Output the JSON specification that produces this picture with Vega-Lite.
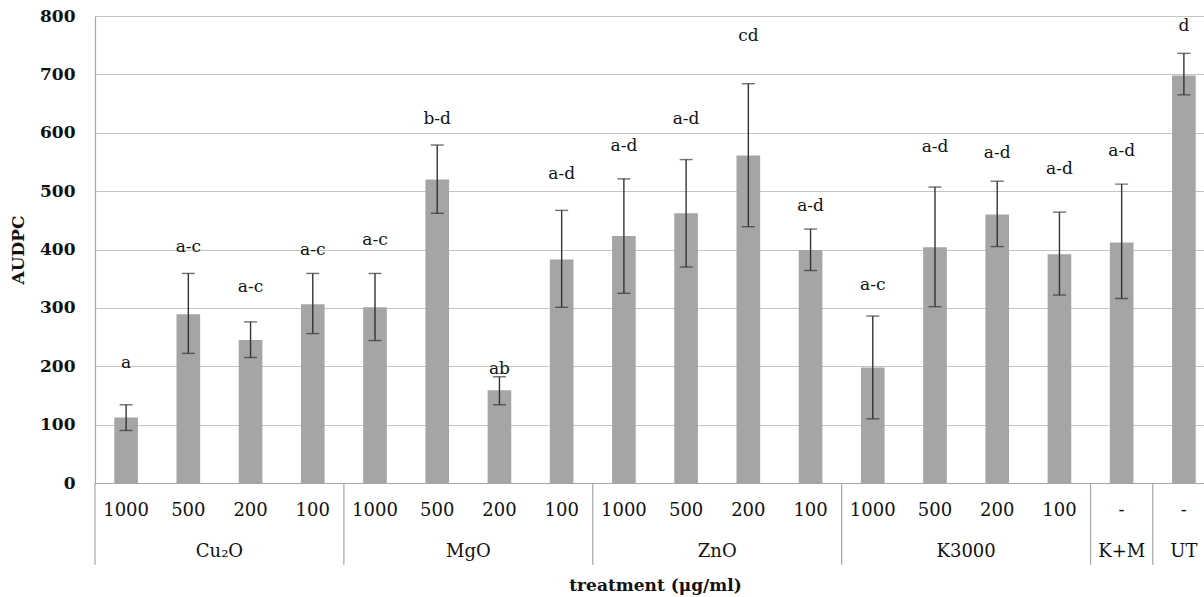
{
  "$schema": "https://vega.github.io/schema/vega-lite/v6.json",
  "autosize": {"type": "none"},
  "padding": {"left": 95, "top": 16, "right": 0, "bottom": 114},
  "width": 1120,
  "height": 467,
  "background": "white",
  "config": {
    "view": {"stroke": null},
    "font": "DejaVu Serif",
    "axis": {"labelFont": "DejaVu Serif", "titleFont": "DejaVu Serif", "labelColor": "#111", "titleColor": "#111"}
  },
  "datasets": {
    "bars": [
      {"key": "Cu2O|1000", "group": "Cu₂O", "mean": 112, "lo": 90, "hi": 134, "letter": "a", "label_y": 206},
      {"key": "Cu2O|500", "group": "Cu₂O", "mean": 289, "lo": 222, "hi": 359, "letter": "a-c", "label_y": 404},
      {"key": "Cu2O|200", "group": "Cu₂O", "mean": 245, "lo": 215, "hi": 276, "letter": "a-c", "label_y": 336},
      {"key": "Cu2O|100", "group": "Cu₂O", "mean": 306, "lo": 256, "hi": 359, "letter": "a-c", "label_y": 399},
      {"key": "MgO|1000", "group": "MgO", "mean": 301, "lo": 244, "hi": 359, "letter": "a-c", "label_y": 416},
      {"key": "MgO|500", "group": "MgO", "mean": 520, "lo": 462, "hi": 579, "letter": "b-d", "label_y": 624},
      {"key": "MgO|200", "group": "MgO", "mean": 159, "lo": 134, "hi": 182, "letter": "ab", "label_y": 195},
      {"key": "MgO|100", "group": "MgO", "mean": 383, "lo": 301, "hi": 467, "letter": "a-d", "label_y": 530},
      {"key": "ZnO|1000", "group": "ZnO", "mean": 423, "lo": 325, "hi": 521, "letter": "a-d", "label_y": 578},
      {"key": "ZnO|500", "group": "ZnO", "mean": 462, "lo": 370, "hi": 554, "letter": "a-d", "label_y": 624},
      {"key": "ZnO|200", "group": "ZnO", "mean": 561, "lo": 439, "hi": 684, "letter": "cd", "label_y": 765},
      {"key": "ZnO|100", "group": "ZnO", "mean": 399, "lo": 364, "hi": 435, "letter": "a-d", "label_y": 475},
      {"key": "K3000|1000", "group": "K3000", "mean": 198, "lo": 110, "hi": 286, "letter": "a-c", "label_y": 339},
      {"key": "K3000|500", "group": "K3000", "mean": 404, "lo": 302, "hi": 507, "letter": "a-d", "label_y": 575},
      {"key": "K3000|200", "group": "K3000", "mean": 460, "lo": 405, "hi": 517, "letter": "a-d", "label_y": 566},
      {"key": "K3000|100", "group": "K3000", "mean": 392, "lo": 322, "hi": 464, "letter": "a-d", "label_y": 538},
      {"key": "K+M|-", "group": "K+M", "mean": 412, "lo": 316, "hi": 512, "letter": "a-d", "label_y": 569},
      {"key": "UT|-", "group": "UT", "mean": 698, "lo": 665, "hi": 736, "letter": "d", "label_y": 783}
    ],
    "groups": [
      {"key": "Cu2O|1000", "name": "Cu₂O", "center_key": "Cu2O|200", "single": false},
      {"key": "MgO|1000", "name": "MgO", "center_key": "MgO|200", "single": false},
      {"key": "ZnO|1000", "name": "ZnO", "center_key": "ZnO|200", "single": false},
      {"key": "K3000|1000", "name": "K3000", "center_key": "K3000|200", "single": false},
      {"key": "K+M|-", "name": "K+M", "center_key": "K+M|-", "single": true},
      {"key": "UT|-", "name": "UT", "center_key": "UT|-", "single": true}
    ]
  },
  "layer": [
    {
      "data": {"name": "bars"},
      "mark": {"type": "bar", "color": "#A5A5A5", "width": {"band": 0.38}},
      "encoding": {
        "x": {
          "field": "key", "type": "nominal", "sort": null,
          "scale": {"domain": ["Cu2O|1000","Cu2O|500","Cu2O|200","Cu2O|100","MgO|1000","MgO|500","MgO|200","MgO|100","ZnO|1000","ZnO|500","ZnO|200","ZnO|100","K3000|1000","K3000|500","K3000|200","K3000|100","K+M|-","UT|-"], "paddingInner": 0, "paddingOuter": 0},
          "axis": {
            "title": "treatment (μg/ml)",
            "titleFontSize": 17, "titleFontWeight": "bold", "titlePadding": 58,
            "labelExpr": "split(datum.value, '|')[1]",
            "labelAngle": 0, "labelFontSize": 18, "labelPadding": 18,
            "ticks": false, "domainColor": "#A6A6A6", "domainWidth": 1.2, "grid": false
          }
        },
        "y": {
          "field": "mean", "type": "quantitative",
          "scale": {"domain": [0, 800], "nice": false},
          "axis": {
            "title": "AUDPC", "titleFontSize": 17, "titleFontWeight": "bold", "titlePadding": 12,
            "values": [0,100,200,300,400,500,600,700,800],
            "labelFontSize": 17, "labelFontWeight": "bold", "labelPadding": 20,
            "ticks": false, "domainColor": "#A6A6A6", "domainWidth": 1.2,
            "grid": true, "gridColor": "#C4C4C4", "gridWidth": 1.2
          }
        }
      }
    },
    {
      "data": {"name": "bars"},
      "mark": {"type": "rule", "color": "#333333", "strokeWidth": 1.4},
      "encoding": {
        "x": {"field": "key", "type": "nominal", "sort": null},
        "y": {"field": "lo", "type": "quantitative"},
        "y2": {"field": "hi"}
      }
    },
    {
      "data": {"name": "bars"},
      "mark": {"type": "tick", "color": "#333333", "size": 13, "thickness": 1.4, "orient": "horizontal"},
      "encoding": {
        "x": {"field": "key", "type": "nominal", "sort": null},
        "y": {"field": "lo", "type": "quantitative"}
      }
    },
    {
      "data": {"name": "bars"},
      "mark": {"type": "tick", "color": "#333333", "size": 13, "thickness": 1.4, "orient": "horizontal"},
      "encoding": {
        "x": {"field": "key", "type": "nominal", "sort": null},
        "y": {"field": "hi", "type": "quantitative"}
      }
    },
    {
      "data": {"name": "bars"},
      "mark": {"type": "text", "fontSize": 17, "color": "#111", "baseline": "middle", "align": "center"},
      "encoding": {
        "x": {"field": "key", "type": "nominal", "sort": null},
        "y": {"field": "label_y", "type": "quantitative"},
        "text": {"field": "letter"}
      }
    },
    {
      "data": {"name": "groups"},
      "mark": {"type": "rule", "color": "#A6A6A6", "strokeWidth": 1.2, "clip": false},
      "encoding": {
        "x": {"field": "key", "type": "nominal", "sort": null, "bandPosition": 0},
        "y": {"datum": 0},
        "y2": {"datum": -140}
      }
    },
    {
      "data": {"name": "groups"},
      "transform": [{"filter": "!datum.single"}],
      "mark": {"type": "text", "fontSize": 18, "color": "#111", "baseline": "middle", "align": "center", "clip": false},
      "encoding": {
        "x": {"field": "center_key", "type": "nominal", "sort": null, "bandPosition": 0},
        "y": {"datum": -118},
        "text": {"field": "name"}
      }
    },
    {
      "data": {"name": "groups"},
      "transform": [{"filter": "datum.single"}],
      "mark": {"type": "text", "fontSize": 18, "color": "#111", "baseline": "middle", "align": "center", "clip": false},
      "encoding": {
        "x": {"field": "center_key", "type": "nominal", "sort": null, "bandPosition": 0.5},
        "y": {"datum": -118},
        "text": {"field": "name"}
      }
    }
  ]
}
